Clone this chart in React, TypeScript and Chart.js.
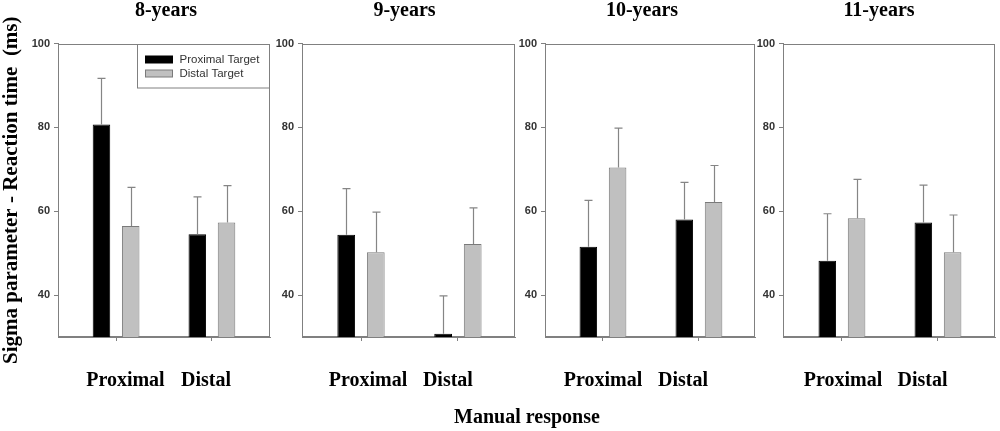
import React, { useEffect, useRef } from 'react';
import { Chart, registerables } from 'chart.js';

Chart.register(...registerables);

// ---------- data ----------
const panelTitles = ['8-years', '9-years', '10-years', '11-years'];
const categories = ['Proximal', 'Distal'];
const seriesNames = ['Proximal Target', 'Distal Target'];
const yTicks = [40, 60, 80, 100];
const yMin = 30;
const yMax = 100;
const xAxisTitle = 'Manual response';
const yAxisTitle = 'Sigma parameter - Reaction time  (ms)';

// means: [Proximal response, Distal response]
const proximalTarget8 = [80.7, 54.5];
const distalTarget8 = [56.5, 57.3];
const proximalTarget9 = [54.4, 30.8];
const distalTarget9 = [50.2, 52.2];
const proximalTarget10 = [51.5, 58.0];
const distalTarget10 = [70.4, 62.2];
const proximalTarget11 = [48.2, 57.3];
const distalTarget11 = [58.3, 50.2];

// upper error bars (SD)
const proximalTargetErr8 = [11.0, 8.9];
const distalTargetErr8 = [9.2, 8.8];
const proximalTargetErr9 = [11.0, 9.0];
const distalTargetErr9 = [9.6, 8.6];
const proximalTargetErr10 = [11.1, 8.9];
const distalTargetErr10 = [9.4, 8.7];
const proximalTargetErr11 = [11.2, 8.9];
const distalTargetErr11 = [9.3, 8.9];

const proximalSeries = [proximalTarget8, proximalTarget9, proximalTarget10, proximalTarget11];
const distalSeries = [distalTarget8, distalTarget9, distalTarget10, distalTarget11];
const proximalErrs = [proximalTargetErr8, proximalTargetErr9, proximalTargetErr10, proximalTargetErr11];
const distalErrs = [distalTargetErr8, distalTargetErr9, distalTargetErr10, distalTargetErr11];

// ---------- layout (positions only) ----------
const LAYOUT = [
  { left: 0, width: 332, axisW: 58, padR: 62, tickFrac: [0.274, 0.726], labelFrac: [0.318, 0.698] },
  { left: 270, width: 269, axisW: 32, padR: 24, tickFrac: [0.277, 0.732], labelFrac: [0.31, 0.685] },
  { left: 511, width: 262, axisW: 34, padR: 18, tickFrac: [0.276, 0.733], labelFrac: [0.276, 0.657] },
  { left: 752, width: 254, axisW: 31, padR: 11, tickFrac: [0.278, 0.731], labelFrac: [0.283, 0.658] },
];
const H = 431;
const SERIF = '"Times New Roman", "Liberation Serif", serif';
const SANS = 'Arial, "Liberation Sans", sans-serif';
const AXIS_GRAY = '#808080';

function rangeFor(fr: number[]) {
  const r = 1 / (fr[1] - fr[0]);
  const min = 1 - fr[0] * r;
  return { min, max: min + r };
}

const framePlugin = {
  id: 'frame',
  beforeDatasetsDraw(chart: any) {
    const { ctx, chartArea: a } = chart;
    ctx.save();
    ctx.strokeStyle = AXIS_GRAY;
    ctx.lineWidth = 1;
    const l = Math.round(a.left) + 0.5;
    const t = Math.round(a.top) + 0.5;
    const r = Math.round(a.right) - 0.5;
    const b = Math.round(a.bottom) - 0.5;
    ctx.strokeRect(l, t, r - l, b - t);
    ctx.restore();
  },
};

const errorBarPlugin = {
  id: 'errorBars',
  afterDatasetsDraw(chart: any) {
    const { ctx } = chart;
    const yScale = chart.scales.y;
    ctx.save();
    ctx.strokeStyle = '#858585';
    ctx.lineWidth = 1.2;
    chart.data.datasets.forEach((ds: any, i: number) => {
      const meta = chart.getDatasetMeta(i);
      meta.data.forEach((el: any, j: number) => {
        const v = ds.data[j].y;
        const top = yScale.getPixelForValue(v + ds.errorBars[j]);
        const x = Math.round(el.x) + 0.5;
        ctx.beginPath();
        ctx.moveTo(x, el.y);
        ctx.lineTo(x, top);
        ctx.moveTo(x - 4, top);
        ctx.lineTo(x + 4, top);
        ctx.stroke();
      });
    });
    ctx.restore();
  },
};

const boxLegendPlugin = {
  id: 'boxLegend',
  afterDatasetsDraw(chart: any) {
    const { ctx, chartArea: a } = chart;
    const w = 133;
    const h = 43.5;
    const left = Math.round(a.right - w) + 0.5;
    const top = Math.round(a.top) + 0.5;
    ctx.save();
    ctx.fillStyle = '#ffffff';
    ctx.fillRect(left, top, w - 1, h);
    ctx.strokeStyle = AXIS_GRAY;
    ctx.lineWidth = 1;
    ctx.strokeRect(left, top, w - 1, h);
    chart.data.datasets.forEach((ds: any, i: number) => {
      const cy = Math.round(top + 14.5 + i * 13.5);
      ctx.fillStyle = ds.backgroundColor;
      ctx.fillRect(left + 8, cy - 3, 27, 7);
      ctx.strokeStyle = ds.borderColor;
      ctx.strokeRect(left + 8, cy - 3, 27, 7);
      ctx.fillStyle = '#333333';
      ctx.font = `11.5px ${SANS}`;
      ctx.textBaseline = 'middle';
      ctx.textAlign = 'left';
      ctx.fillText(ds.label, left + 42, cy + 0.5);
    });
    ctx.restore();
  },
};

export default function App() {
  const refs = [useRef<HTMLCanvasElement>(null), useRef<HTMLCanvasElement>(null), useRef<HTMLCanvasElement>(null), useRef<HTMLCanvasElement>(null)];

  useEffect(() => {
    const charts: Chart[] = [];
    LAYOUT.forEach((L, i) => {
      const canvas = refs[i].current;
      if (!canvas) return;
      const xr = rangeFor(L.tickFrac);
      const lr = rangeFor(L.labelFrac);
      const chart = new Chart(canvas, {
        type: 'bar',
        data: {
          datasets: [
            {
              label: seriesNames[0],
              data: categories.map((_, k) => ({ x: k + 1, y: proximalSeries[i][k] })),
              errorBars: proximalErrs[i],
              backgroundColor: '#000000',
              borderColor: '#000000',
              borderWidth: 1,
              borderSkipped: 'start',
              categoryPercentage: 0.61,
              barPercentage: 0.6,
            } as any,
            {
              label: seriesNames[1],
              data: categories.map((_, k) => ({ x: k + 1, y: distalSeries[i][k] })),
              errorBars: distalErrs[i],
              backgroundColor: '#c0c0c0',
              borderColor: '#7a7a7a',
              borderWidth: 1,
              borderSkipped: 'start',
              categoryPercentage: 0.61,
              barPercentage: 0.6,
            } as any,
          ],
        },
        options: {
          animation: false,
          responsive: false,
          maintainAspectRatio: false,
          events: [],
          layout: { padding: 0 },
          plugins: {
            legend: { display: false },
            tooltip: { enabled: false },
            title: {
              display: true,
              fullSize: true,
              text: panelTitles[i],
              color: '#000000',
              font: { family: SERIF, size: 20, weight: 'bold', lineHeight: 1.1 },
              padding: { top: 0, bottom: 21.5 },
            },
          },
          scales: {
            x: {
              type: 'linear',
              position: 'bottom',
              min: xr.min,
              max: xr.max,
              offset: false,
              bounds: 'data',
              weight: 0,
              afterBuildTicks: (s: any) => {
                s.ticks = categories.map((_, k) => ({ value: k + 1 }));
              },
              ticks: { display: false },
              grid: { display: true, drawOnChartArea: false, drawTicks: true, tickLength: 4, color: AXIS_GRAY, offset: false },
              border: { display: true, color: AXIS_GRAY },
              afterFit: (s: any) => {
                s.height = 4;
              },
            },
            xl: {
              type: 'linear',
              position: 'bottom',
              min: lr.min,
              max: lr.max,
              offset: false,
              bounds: 'data',
              weight: 1,
              afterBuildTicks: (s: any) => {
                s.ticks = categories.map((_, k) => ({ value: k + 1 }));
              },
              ticks: {
                autoSkip: false,
                maxRotation: 0,
                minRotation: 0,
                padding: 20,
                color: '#000000',
                font: { family: SERIF, size: 20, weight: 'bold' },
                callback: (_v: any, idx: number) => categories[idx],
              },
              grid: { display: false },
              border: { display: false },
              afterFit: (s: any) => {
                s.height = 90;
              },
            },
            y: {
              type: 'linear',
              position: 'left',
              min: yMin,
              max: yMax,
              beginAtZero: false,
              bounds: 'data',
              afterBuildTicks: (s: any) => {
                s.ticks = yTicks.map((v) => ({ value: v }));
              },
              ticks: { padding: 4, color: '#333333', font: { family: SANS, size: 11, weight: 'bold' } },
              grid: { drawOnChartArea: false, drawTicks: true, tickLength: 4, color: AXIS_GRAY },
              border: { display: true, color: AXIS_GRAY },
              title:
                i === 0
                  ? {
                      display: true,
                      text: yAxisTitle,
                      color: '#000000',
                      font: { family: SERIF, size: 21, weight: 'bold', lineHeight: 1.1 },
                      padding: { top: 0, bottom: 0 },
                    }
                  : { display: false },
              afterFit: (s: any) => {
                s.width = L.axisW;
              },
            },
            spacer: {
              type: 'linear',
              position: 'right',
              min: 0,
              max: 1,
              ticks: { display: false },
              grid: { display: false },
              border: { display: false },
              afterFit: (s: any) => {
                s.width = L.padR;
              },
            },
          },
        } as any,
        plugins: i === 0 ? [framePlugin, errorBarPlugin, boxLegendPlugin] : [framePlugin, errorBarPlugin],
      });
      charts.push(chart);
    });
    return () => {
      charts.forEach((c) => c.destroy());
    };
  }, []);

  return (
    <div
      style={{
        position: 'absolute',
        left: 0,
        top: 0,
        width: 1000,
        height: H,
        overflow: 'hidden',
        background: '#ffffff',
      }}
    >
      {LAYOUT.map((L, i) => (
        <canvas
          key={i}
          ref={refs[i]}
          width={L.width}
          height={H}
          style={{ position: 'absolute', left: L.left, top: 0, width: L.width, height: H }}
        />
      ))}
      <div
        style={{
          position: 'absolute',
          left: 527,
          top: 404,
          transform: 'translateX(-50%)',
          whiteSpace: 'nowrap',
          fontFamily: SERIF,
          fontWeight: 'bold',
          fontSize: 20,
          lineHeight: '24px',
          color: '#000000',
        }}
      >
        {xAxisTitle}
      </div>
    </div>
  );
}
